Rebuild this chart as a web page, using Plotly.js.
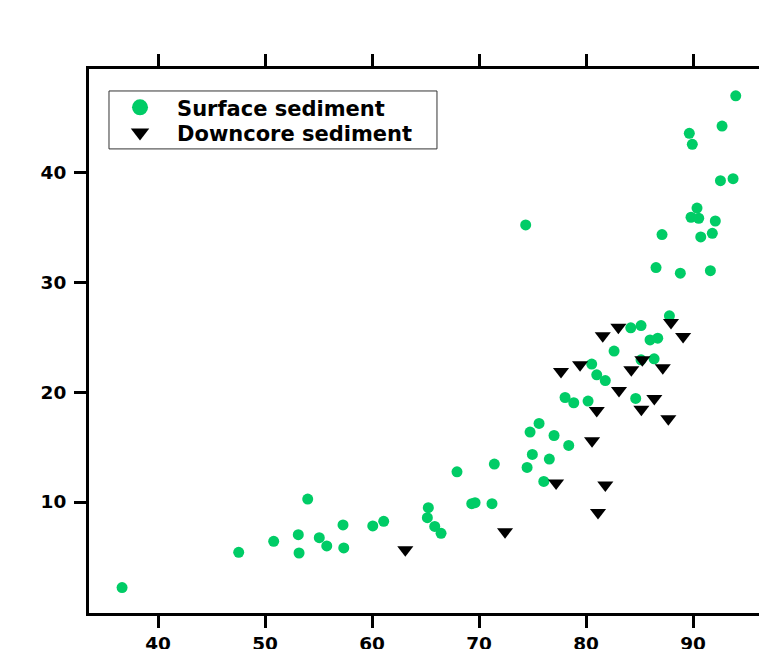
<!DOCTYPE html>
<html>
<head>
<meta charset="utf-8">
<script src="https://cdn.plot.ly/plotly-3.0.1.min.js"></script>
<style>
html,body{margin:0;padding:0;overflow:hidden;background:#fff;width:759px;height:649px;}
#chart{width:800px;height:680px;}
</style>
</head>
<body>
<div id="chart"></div>
<script>
// Surface sediment (x, y)
const surfaceX = [36.64,47.54,50.81,53.11,53.18,53.99,55.07,55.77,57.29,57.36,60.07,61.09,65.26,65.17,65.86,66.45,67.94,69.32,69.63,71.21,71.43,74.36,74.49,74.77,74.98,75.61,76.05,76.57,77.01,78.04,78.38,78.85,80.19,80.53,81.0,81.8,82.62,84.18,85.14,84.64,85.14,85.98,86.7,86.36,86.54,87.1,87.79,88.81,89.65,89.93,89.81,90.37,90.53,90.72,91.62,91.8,92.08,92.56,92.71,93.74,93.99];
const surfaceY = [2.21,5.42,6.42,7.03,5.36,10.27,6.75,6.0,7.91,5.82,7.82,8.24,9.48,8.57,7.78,7.15,12.75,9.85,9.94,9.85,13.45,35.21,13.15,16.36,14.33,17.15,11.87,13.91,16.05,19.51,15.15,19.03,19.18,22.55,21.57,21.05,23.73,25.85,26.05,19.42,22.94,24.75,24.91,23.03,31.33,34.33,26.94,30.82,43.55,42.55,35.91,36.75,35.82,34.12,31.05,34.45,35.57,39.24,44.21,39.42,46.96];
// Downcore sediment (x, y)
const downcoreX = [63.11,72.43,77.2,77.66,79.44,80.56,81.0,81.12,81.56,81.8,83.02,83.08,84.23,85.17,85.26,86.38,87.17,87.69,87.94,89.07];
const downcoreY = [5.66,7.3,11.73,21.87,22.48,15.57,18.33,9.05,25.12,11.55,25.91,20.15,22.03,18.45,22.94,19.42,22.21,17.57,26.33,25.05];
const xTicks = [40,50,60,70,80,90];
const yTicks = [10,20,30,40];
const seriesNames = ['Surface sediment','Downcore sediment'];

const green = '#00cc66';
const fontFam = '"DejaVu Sans", Arial, sans-serif';

const traces = [
  {x: surfaceX, y: surfaceY, type: 'scatter', mode: 'markers', name: seriesNames[0], showlegend: false,
   marker: {symbol: 'circle', size: 11, color: green}},
  {x: downcoreX, y: downcoreY, type: 'scatter', mode: 'markers', name: seriesNames[1], showlegend: false,
   marker: {symbol: 'triangle-down', size: 14, color: '#000'}},
  // legend entries (no data, larger legend symbols)
  {x: [null], y: [null], type: 'scatter', mode: 'markers', name: seriesNames[0], legend: 'legend',
   marker: {symbol: 'circle', size: 16, color: green}},
  {x: [null], y: [null], type: 'scatter', mode: 'markers', name: seriesNames[1], legend: 'legend2',
   marker: {symbol: 'triangle-down', size: 16, color: '#000'}}
];

const axisCommon = {
  showgrid: false, zeroline: false, showline: true, linecolor: '#000', linewidth: 3,
  ticks: 'outside', ticklen: 12, tickwidth: 3, tickcolor: '#000',
  tickfont: {family: fontFam, size: 18.5, color: '#000', weight: 'bold'}
};

const legFont = {family: fontFam, size: 21, color: '#000', weight: 'bold'};
const legCommon = {xanchor: 'left', yanchor: 'middle', bgcolor: 'rgba(0,0,0,0)', borderwidth: 0,
  itemwidth: 64, font: legFont};

const layout = {
  width: 800, height: 680,
  margin: {l: 89, r: 10, t: 69, b: 66.5},
  paper_bgcolor: '#fff', plot_bgcolor: '#fff',
  showlegend: true,
  legend: Object.assign({}, legCommon, {x: 0.0200, y: 0.9289}),
  legend2: Object.assign({}, legCommon, {x: 0.0200, y: 0.8825}),
  shapes: [{type: 'rect', xref: 'paper', yref: 'paper', x0: 0.02853, x1: 0.4964, y0: 0.8531, y1: 0.9596,
    line: {color: '#333', width: 1}, fillcolor: '#fff', layer: 'above'}],
  xaxis: Object.assign({}, axisCommon, {range: [33.55, 99.06], tickvals: xTicks, ticktext: xTicks.map(String), mirror: 'allticks'}),
  yaxis: Object.assign({}, axisCommon, {range: [-0.1, 49.4], tickvals: yTicks, ticktext: yTicks.map(String), mirror: 'allticks', ticklabelstandoff: 4})
};

Plotly.newPlot('chart', traces, layout, {displayModeBar: false, staticPlot: true});
</script>
</body>
</html>
